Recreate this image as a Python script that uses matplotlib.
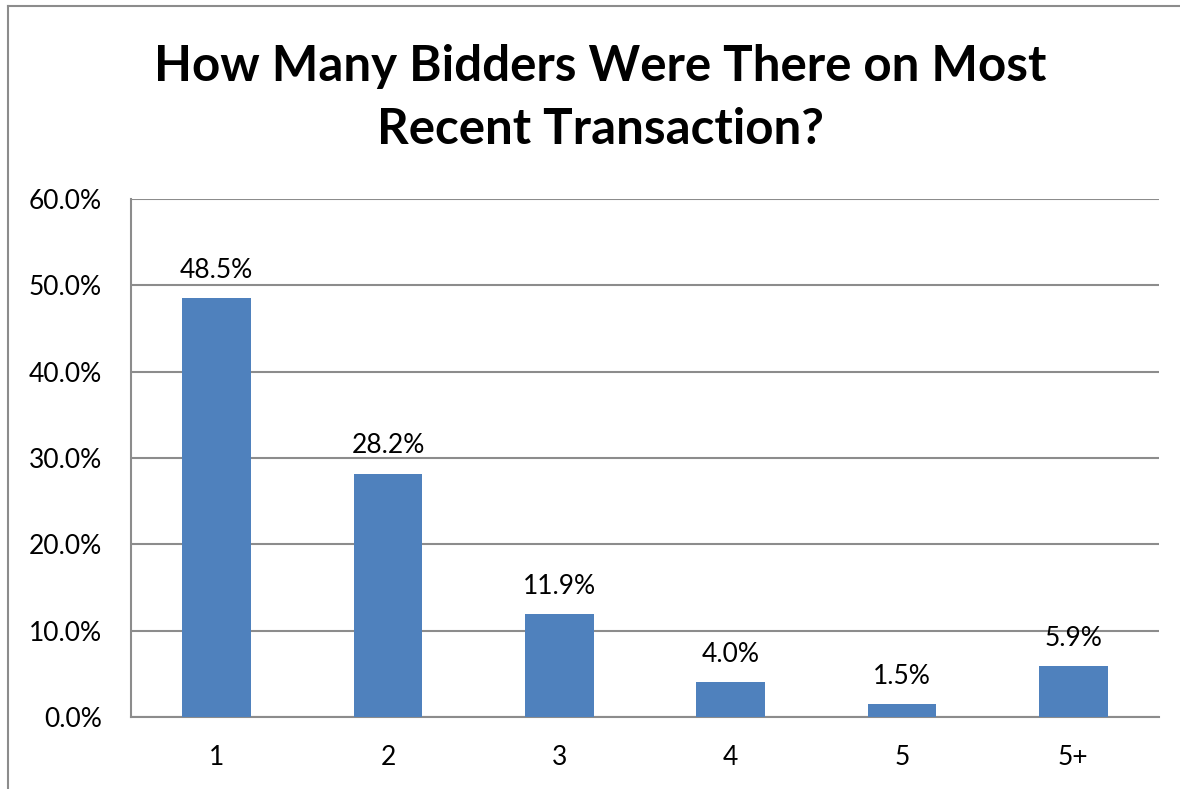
import matplotlib
matplotlib.use("Agg")
import matplotlib.pyplot as plt
from matplotlib.lines import Line2D
from matplotlib.ticker import FuncFormatter

categories = ["1", "2", "3", "4", "5", "5+"]
values = [48.5, 28.2, 11.9, 4.0, 1.5, 5.9]
title = "How Many Bidders Were There on Most\nRecent Transaction?"

plt.rcParams['font.family'] = ['Lato', 'DejaVu Sans']

fig = plt.figure(figsize=(11.8, 7.89), dpi=100)
ax = fig.add_axes([131/1180, 1-717/789, (1159-131)/1180, (717-199)/789])

x = range(len(categories))
ax.bar(x, values, width=0.4, color="#4F81BD", zorder=3)
for xi, v in zip(x, values):
    ax.annotate(f"{v:.1f}%", (xi, v), xytext=(0, 11), textcoords="offset points",
                ha="center", va="bottom", fontsize=19, color="black", zorder=4)

ax.set_xlim(-0.5, len(categories) - 0.5)
ax.set_ylim(0, 60)
ax.set_yticks([0, 10, 20, 30, 40, 50, 60])
ax.yaxis.set_major_formatter(FuncFormatter(lambda v, p: f"{v:.1f}%"))
ax.set_xticks(list(x))
ax.set_xticklabels(categories)
ax.tick_params(axis="both", length=0, labelsize=19, colors="black")
ax.tick_params(axis="y", pad=21)
ax.tick_params(axis="x", pad=20)
ax.grid(axis="y", color="#8C8C8C", linewidth=1.5, zorder=0)
for s in ["top", "right"]:
    ax.spines[s].set_visible(False)
for s in ["left", "bottom"]:
    ax.spines[s].set_color("#8C8C8C")
    ax.spines[s].set_linewidth(1.5)

fig.text(600/1180, 1-98/789, title, ha="center", va="center", fontsize=35.5,
         fontweight="bold", linespacing=1.48)

# outer chart border
fig.add_artist(Line2D([8/1180, 8/1180], [-0.01, 1-6/789], transform=fig.transFigure,
                      color="#8C8C8C", linewidth=1.5))
fig.add_artist(Line2D([8/1180, 1.01], [1-6/789, 1-6/789], transform=fig.transFigure,
                      color="#8C8C8C", linewidth=1.5))

fig.savefig("out.png", dpi=100)
